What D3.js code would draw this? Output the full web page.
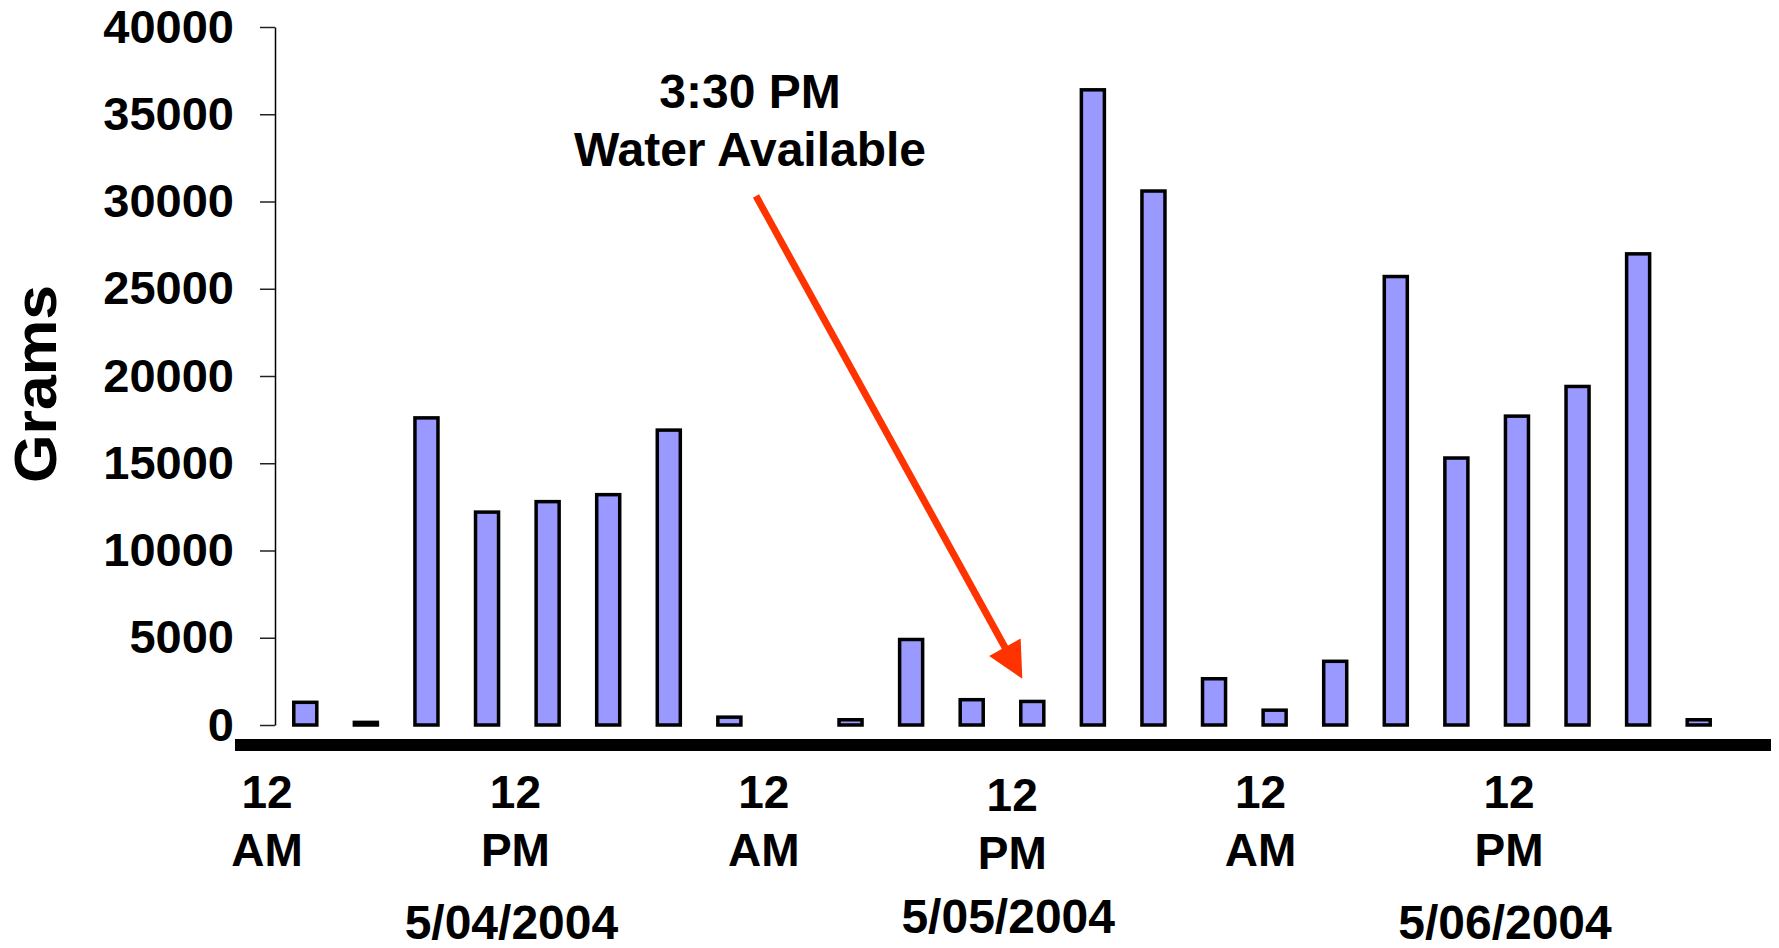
<!DOCTYPE html>
<html>
<head>
<meta charset="utf-8">
<script src="https://cdn.jsdelivr.net/npm/d3@7"></script>
<style>
  body { margin: 0; background: #fff; }
  text { font-family: "Liberation Sans", Arial, sans-serif; font-weight: bold; fill: #000; }
</style>
</head>
<body>
<div id="container"></div>
<script>
// 3-hour intervals, 5/04/2004 12 AM .. 5/06/2004 9 PM
const slots = d3.range(24);
const grams = [1300, 150, 17600, 12200, 12800, 13200, 16900, 450, 0, 300, 4900, 1450,
               1350, 36400, 30600, 2650, 850, 3650, 25700, 15300, 17700, 19400, 27000, 300];

const yTicks = [0, 5000, 10000, 15000, 20000, 25000, 30000, 35000, 40000];

// label hours from the first 12 AM
const timeHours = [0, 12, 24, 36, 48, 60];
const timeLabels = [['12', 'AM'], ['12', 'PM'], ['12', 'AM'], ['12', 'PM'], ['12', 'AM'], ['12', 'PM']];
const dateHours = [12, 36, 60];
const dateLabels = ['5/04/2004', '5/05/2004', '5/06/2004'];

const width = 1779;
const height = 948;

const svg = d3.select('#container').append('svg')
    .attr('width', width)
    .attr('height', height);

// Scales
const xScale = d3.scaleBand()
    .domain(slots)
    .range([275, 1729])
    .paddingInner(0.62)
    .paddingOuter(0.31);

const yScale = d3.scaleLinear()
    .domain([0, 40000])
    .range([725, 27]);

// the hour labels are spread a bit wider than the bars
const labelScale = d3.scaleLinear()
    .domain([0, 60])
    .range([267, 1509]);

// Y axis
const yAxis = svg.append('g')
    .attr('transform', 'translate(275,0)')
    .call(d3.axisLeft(yScale)
        .tickValues(yTicks)
        .tickFormat(d3.format('d'))
        .tickSize(15)
        .tickSizeOuter(0)
        .tickPadding(26));

yAxis.select('.domain').attr('stroke', '#000').attr('stroke-width', 1.5);
yAxis.selectAll('.tick line').attr('stroke', '#222').attr('stroke-width', 1.5);
yAxis.selectAll('.tick text')
    .attr('font-size', 47)
    .attr('font-family', '"Liberation Sans", Arial, sans-serif')
    .attr('font-weight', 'bold')
    .attr('fill', '#000');

// Y label
svg.append('text')
    .attr('transform', 'translate(56,384) rotate(-90)')
    .attr('text-anchor', 'middle')
    .attr('font-size', 60)
    .attr('textLength', 198)
    .attr('lengthAdjust', 'spacingAndGlyphs')
    .text('Grams');

// Bars
svg.selectAll('rect.bar')
    .data(grams)
    .enter()
    .append('rect')
    .attr('class', 'bar')
    .attr('x', (d, i) => xScale(i))
    .attr('y', d => yScale(d))
    .attr('width', xScale.bandwidth())
    .attr('height', d => yScale(0) - yScale(d))
    .attr('fill', '#9999FF')
    .attr('stroke', '#000')
    .attr('stroke-width', 3.5);

// Thick baseline
svg.append('line')
    .attr('x1', 235)
    .attr('x2', 1771)
    .attr('y1', 745)
    .attr('y2', 745)
    .attr('stroke', '#000')
    .attr('stroke-width', 12);

// X labels
const timeG = svg.selectAll('text.time')
    .data(timeLabels)
    .enter()
    .append('text')
    .attr('class', 'time')
    .attr('text-anchor', 'middle')
    .attr('font-size', 46)
    .attr('transform', (d, i) => 'translate(' + labelScale(timeHours[i]) + ',' + (i === 3 ? 811 : 808) + ')');

timeG.append('tspan').attr('x', 0).attr('y', 0).text(d => d[0]);
timeG.append('tspan').attr('x', 0).attr('y', 58).text(d => d[1]);

svg.selectAll('text.date')
    .data(dateLabels)
    .enter()
    .append('text')
    .attr('class', 'date')
    .attr('text-anchor', 'middle')
    .attr('font-size', 48)
    .attr('x', (d, i) => labelScale(dateHours[i]) - 4)
    .attr('y', (d, i) => i === 1 ? 933 : 939)
    .text(d => d);

// Annotation
const note = svg.append('text')
    .attr('text-anchor', 'middle')
    .attr('font-size', 48);
note.append('tspan').attr('x', 750).attr('y', 108).text('3:30 PM');
note.append('tspan').attr('x', 750).attr('y', 166).text('Water Available');

// Arrow pointing at the 3 PM bar
const tip = [xScale(12) + xScale.bandwidth() / 2 - 10, yScale(2650)];
const start = [756, 196];
const dx = tip[0] - start[0];
const dy = tip[1] - start[1];
const len = Math.sqrt(dx * dx + dy * dy);
const ux = dx / len, uy = dy / len;
const headLen = 36, headHalf = 18;
const base = [tip[0] - ux * headLen, tip[1] - uy * headLen];

svg.append('line')
    .attr('x1', start[0])
    .attr('y1', start[1])
    .attr('x2', base[0] + ux * 2)
    .attr('y2', base[1] + uy * 2)
    .attr('stroke', '#FF3300')
    .attr('stroke-width', 7);

svg.append('polygon')
    .attr('points', [
        tip,
        [base[0] - uy * headHalf, base[1] + ux * headHalf],
        [base[0] + uy * headHalf, base[1] - ux * headHalf]
    ].map(p => p.join(',')).join(' '))
    .attr('fill', '#FF3300');
</script>
</body>
</html>
